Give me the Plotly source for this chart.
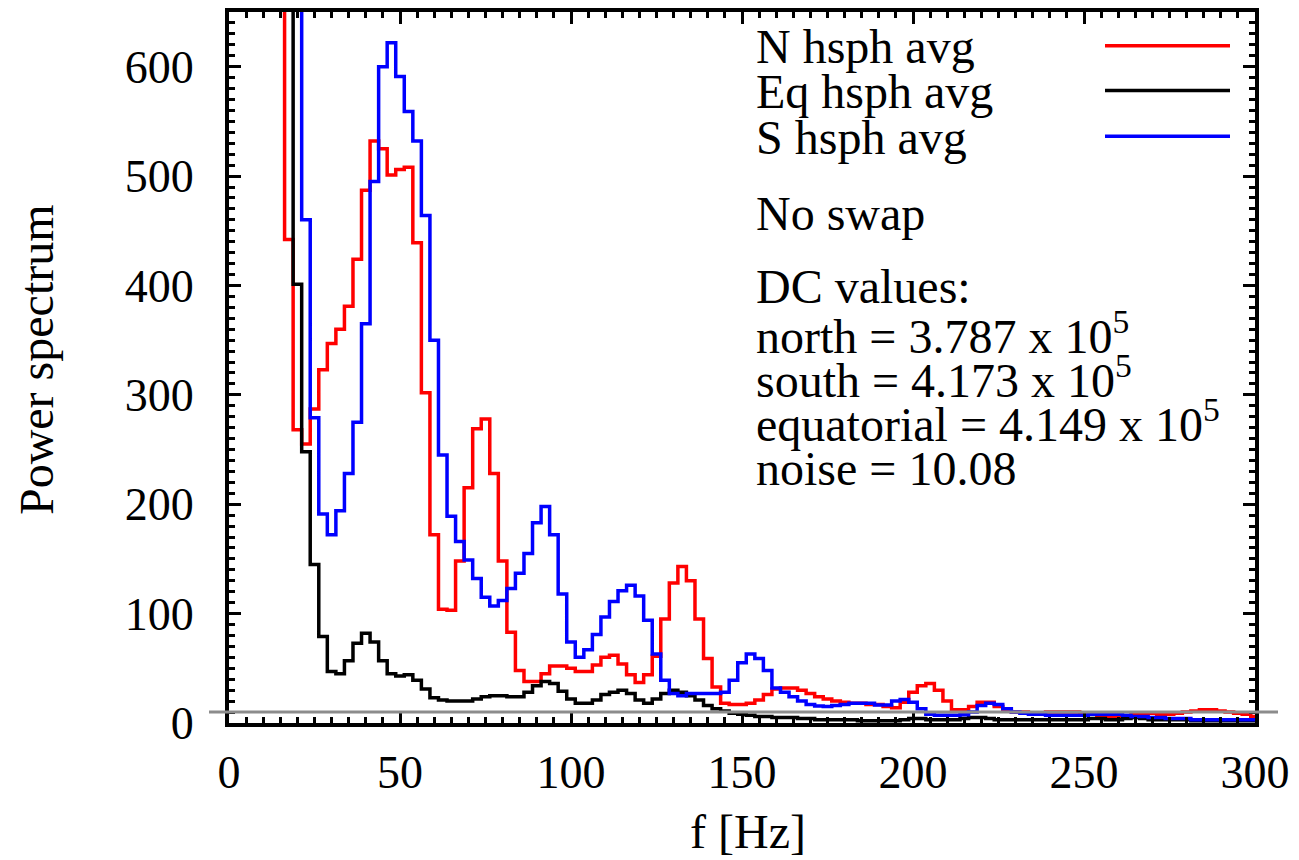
import plotly.graph_objects as go

# frequency grid (bin centres, Hz)
freq_hz = [0.0, 2.5, 5.0, 7.5, 10.0, 12.5, 15.0, 17.5, 20.0, 22.5, 25.0, 27.5, 30.0, 32.5, 35.0, 37.5,
           40.0, 42.5, 45.0, 47.5, 50.0, 52.5, 55.0, 57.5, 60.0, 62.5, 65.0, 67.5, 70.0, 72.5, 75.0, 77.5,
           80.0, 82.5, 85.0, 87.5, 90.0, 92.5, 95.0, 97.5, 100.0, 102.5, 105.0, 107.5, 110.0, 112.5, 115.0,
           117.5, 120.0, 122.5, 125.0, 127.5, 130.0, 132.5, 135.0, 137.5, 140.0, 142.5, 145.0, 147.5, 150.0,
           152.5, 155.0, 157.5, 160.0, 162.5, 165.0, 167.5, 170.0, 172.5, 175.0, 177.5, 180.0, 182.5, 185.0,
           187.5, 190.0, 192.5, 195.0, 197.5, 200.0, 202.5, 205.0, 207.5, 210.0, 212.5, 215.0, 217.5, 220.0,
           222.5, 225.0, 227.5, 230.0, 232.5, 235.0, 237.5, 240.0, 242.5, 245.0, 247.5, 250.0, 252.5, 255.0,
           257.5, 260.0, 262.5, 265.0, 267.5, 270.0, 272.5, 275.0, 277.5, 280.0, 282.5, 285.0, 287.5, 290.0,
           292.5, 295.0, 297.5, 300.0]

north_avg = [5000, 4000, 3000, 2000, 1500, 1000, 800, 442, 268, 255, 287, 323, 347, 360, 381, 424,
             487, 532, 525, 501, 506, 508, 439, 302, 172, 104, 103, 148, 215, 269, 278, 228,
             148, 83, 48, 38, 38, 45, 52, 52, 50, 47, 47, 53, 60, 62, 54, 44,
             37, 44, 61, 95, 128, 143, 130, 95, 59, 33, 18, 17, 17, 18, 21, 26,
             31, 32, 32, 30, 27, 24, 22, 20, 19, 18, 18, 17, 17, 15, 14, 19,
             28, 34, 36, 30, 20, 12, 12, 15, 19, 19, 15, 11, 10, 10, 9, 9,
             10, 10, 10, 10, 9, 8, 6, 5, 5, 6, 8, 9, 9, 8, 8, 9,
             10, 11, 12, 12, 11, 10, 9, 8, 6]

equat_avg = [5000, 4000, 3000, 2000, 1500, 1200, 900, 700, 401, 248, 145, 79, 47, 45, 57, 73,
             82, 74, 57, 45, 43, 44, 39, 31, 23, 21, 20, 20, 20, 22, 24, 25,
             25, 24, 24, 28, 34, 38, 36, 29, 22, 18, 18, 21, 26, 28, 30, 27,
             21, 18, 22, 27, 30, 28, 25, 21, 16, 13, 11, 9, 8, 7, 6, 6,
             5, 5, 5, 4, 4, 3, 3, 3, 3, 3, 2, 2, 2, 2, 2, 3,
             4, 4, 3, 3, 3, 3, 4, 5, 5, 4, 3, 3, 3, 3, 3, 3,
             3, 3, 3, 3, 3, 4, 4, 3, 3, 4, 5, 4, 3, 3, 3, 3,
             3, 2, 2, 2, 2, 2, 2, 2, 2]

south_avg = [5000, 4000, 3000, 2500, 2000, 1500, 1200, 1000, 800, 460, 279, 191, 172, 194, 228, 275,
             365, 495, 600, 622, 591, 559, 532, 464, 350, 245, 189, 166, 149, 132, 115, 107,
             112, 123, 137, 155, 183, 198, 172, 118, 74, 60, 67, 81, 97, 111, 121, 126,
             116, 94, 63, 39, 27, 25, 27, 27, 27, 27, 28, 39, 55, 63, 59, 48,
             32, 28, 24, 20, 17, 15.5, 15, 16, 17, 18, 18, 18, 16.5, 16.5, 20, 21.5,
             19, 13, 8, 7, 7, 7, 7.5, 10, 16, 18, 17, 13, 10, 9, 8, 8,
             7, 7, 7, 7, 7, 8, 8, 8, 8, 7, 6, 6, 5, 5, 4, 4,
             4, 3, 3, 3, 3, 3, 3, 3, 3]

series_names = ["N hsph avg", "Eq hsph avg", "S hsph avg"]
series_colors = ["#ff0000", "#000000", "#0000ff"]
noise_level = 10.08

info_lines = ["No swap", "DC values:",
              "north = 3.787 x 10<sup>5</sup>",
              "south = 4.173 x 10<sup>5</sup>",
              "equatorial = 4.149 x 10<sup>5</sup>",
              "noise = 10.08"]

FONT = "Liberation Serif, Times New Roman, serif"
W, H = 1299, 860
L, R, T, B = 229, 44, 8, 137
PW, PH = W - L - R, H - T - B


def px(x):
    return (x - L) / PW


def py(y):
    return (H - B - y) / PH


fig = go.Figure()
for name, vals, col in zip(series_names, [north_avg, equat_avg, south_avg], series_colors):
    fig.add_trace(go.Scatter(x=freq_hz, y=vals, mode="lines", name=name,
                             line=dict(color=col, width=3.5, shape="hvh"),
                             showlegend=False))

# noise level line (extends slightly beyond the frame)
fig.add_shape(type="line", xref="paper", yref="y", x0=px(209), x1=px(1278),
              y0=noise_level, y1=noise_level, line=dict(color="#8c8c8c", width=3), layer="above")

TXT = 48
# custom legend: text left, line sample right
legend_y = [42, 87, 133]
for name, col, yy in zip(series_names, series_colors, legend_y):
    fig.add_annotation(x=px(754), y=py(yy + 1), xref="paper", yref="paper", text=name,
                       showarrow=False, xanchor="left", yanchor="middle",
                       font=dict(family=FONT, size=TXT, color="black"))
    fig.add_shape(type="line", xref="paper", yref="paper", x0=px(1105), x1=px(1230),
                  y0=py(yy), y1=py(yy), line=dict(color=col, width=3.5))

info_y = [211, 284, 331, 375, 419, 467]
for txt, yy in zip(info_lines, info_y):
    fig.add_annotation(x=px(754), y=py(yy), xref="paper", yref="paper", text=txt,
                       showarrow=False, xanchor="left", yanchor="middle",
                       font=dict(family=FONT, size=TXT, color="black"))

# axis titles
fig.add_annotation(x=px(36), y=py(358), xref="paper", yref="paper", text="Power spectrum",
                   showarrow=False, textangle=-90, xanchor="center", yanchor="middle",
                   font=dict(family=FONT, size=TXT, color="black"))
fig.add_annotation(x=px(748), y=py(832), xref="paper", yref="paper", text="f [Hz]",
                   showarrow=False, xanchor="center", yanchor="middle",
                   font=dict(family=FONT, size=TXT, color="black"))

axis_common = dict(showline=True, linecolor="black", linewidth=4, mirror="ticks",
                   ticks="inside", ticklen=12, tickwidth=3, tickcolor="black",
                   showgrid=False, zeroline=False,
                   tickfont=dict(family=FONT, size=46, color="black"))

fig.update_xaxes(range=[0, 300], tickvals=[0, 50, 100, 150, 200, 250, 300],
                 minor=dict(dtick=5, ticks="inside", ticklen=6, tickwidth=3, tickcolor="black"),
                 ticklabelstandoff=6, **axis_common)
fig.update_yaxes(range=[0, 650], tickvals=[0, 100, 200, 300, 400, 500, 600],
                 minor=dict(dtick=10, ticks="inside", ticklen=6, tickwidth=3, tickcolor="black"),
                 ticklabelstandoff=22, **axis_common)

fig.update_layout(width=W, height=H, margin=dict(l=L, r=R, t=T, b=B),
                  paper_bgcolor="white", plot_bgcolor="white",
                  font=dict(family=FONT, size=46, color="black"))

fig.write_html("out.html")
